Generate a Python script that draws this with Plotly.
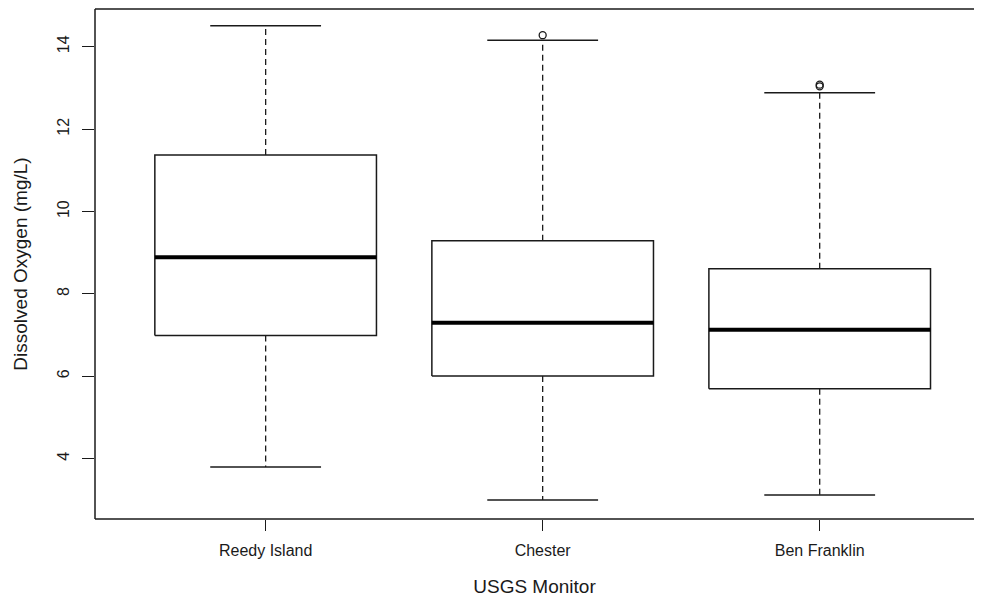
import plotly.graph_objects as go

# dissolved oxygen summary per USGS monitor
stations = ['Reedy Island', 'Chester', 'Ben Franklin']
lower = [3.80, 3.00, 3.12]
q1 = [6.99, 6.01, 5.70]
median = [8.89, 7.30, 7.13]
q3 = [11.37, 9.29, 8.61]
upper = [14.51, 14.16, 12.88]
outliers = [[], [14.28], [13.04, 13.08]]

y_ticks = [4, 6, 8, 10, 12, 14]

ink = '#1a1a1a'
fig = go.Figure()

for i, name in enumerate(stations):
    c = i + 1
    # dashed whiskers
    fig.add_trace(go.Scatter(x=[c, c, None, c, c], y=[q3[i], upper[i], None, q1[i], lower[i]],
                             mode='lines', line=dict(color=ink, width=1.3, dash='6px,4px'),
                             showlegend=False, hoverinfo='skip'))
    # whisker caps
    fig.add_trace(go.Scatter(x=[c - 0.2, c + 0.2, None, c - 0.2, c + 0.2],
                             y=[upper[i], upper[i], None, lower[i], lower[i]],
                             mode='lines', line=dict(color=ink, width=1.5),
                             showlegend=False, hoverinfo='skip'))
    # box
    fig.add_trace(go.Scatter(x=[c - 0.4, c + 0.4, c + 0.4, c - 0.4, c - 0.4],
                             y=[q1[i], q1[i], q3[i], q3[i], q1[i]],
                             mode='lines', line=dict(color=ink, width=1.5),
                             showlegend=False, name=name))
    # median
    fig.add_trace(go.Scatter(x=[c - 0.4, c + 0.4], y=[median[i], median[i]],
                             mode='lines', line=dict(color='black', width=4),
                             showlegend=False, hoverinfo='skip'))
    if outliers[i]:
        fig.add_trace(go.Scatter(x=[c] * len(outliers[i]), y=outliers[i], mode='markers',
                                 marker=dict(symbol='circle-open', size=7, color=ink,
                                             line=dict(width=1.3)),
                                 showlegend=False))

# frame: left, bottom and top only (right side runs off the picture)
frame = dict(type='line', xref='paper', yref='paper', line=dict(color=ink, width=1.5))
fig.add_shape(frame, x0=0, x1=1, y0=0, y1=0)
fig.add_shape(frame, x0=0, x1=1, y0=1, y1=1)
fig.add_shape(frame, x0=0, x1=0, y0=0, y1=1)

# page body keeps its default 8px margin, so the figure is shrunk to fit the window
fig.update_layout(
    width=966, height=589,
    margin=dict(l=87, r=0, t=1, b=78),
    plot_bgcolor='white', paper_bgcolor='white',
    font=dict(family='Liberation Sans, Arial, sans-serif', size=16, color=ink),
)
fig.update_xaxes(range=[0.384, 3.557], tickvals=[1, 2, 3], ticktext=stations,
                 showgrid=False, zeroline=False, showline=False,
                 ticks='outside', ticklen=11, tickcolor=ink, tickwidth=1.3,
                 ticklabelstandoff=6,
                 title=dict(text='USGS Monitor', standoff=25))
fig.update_yaxes(range=[2.536, 14.916], tickvals=y_ticks, tickangle=-90,
                 showgrid=False, zeroline=False, showline=False,
                 ticks='outside', ticklen=12, tickcolor=ink, tickwidth=1.3,
                 ticklabelstandoff=7,
                 title=dict(text='Dissolved Oxygen (mg/L)', standoff=21))

fig.write_html('out.html')
